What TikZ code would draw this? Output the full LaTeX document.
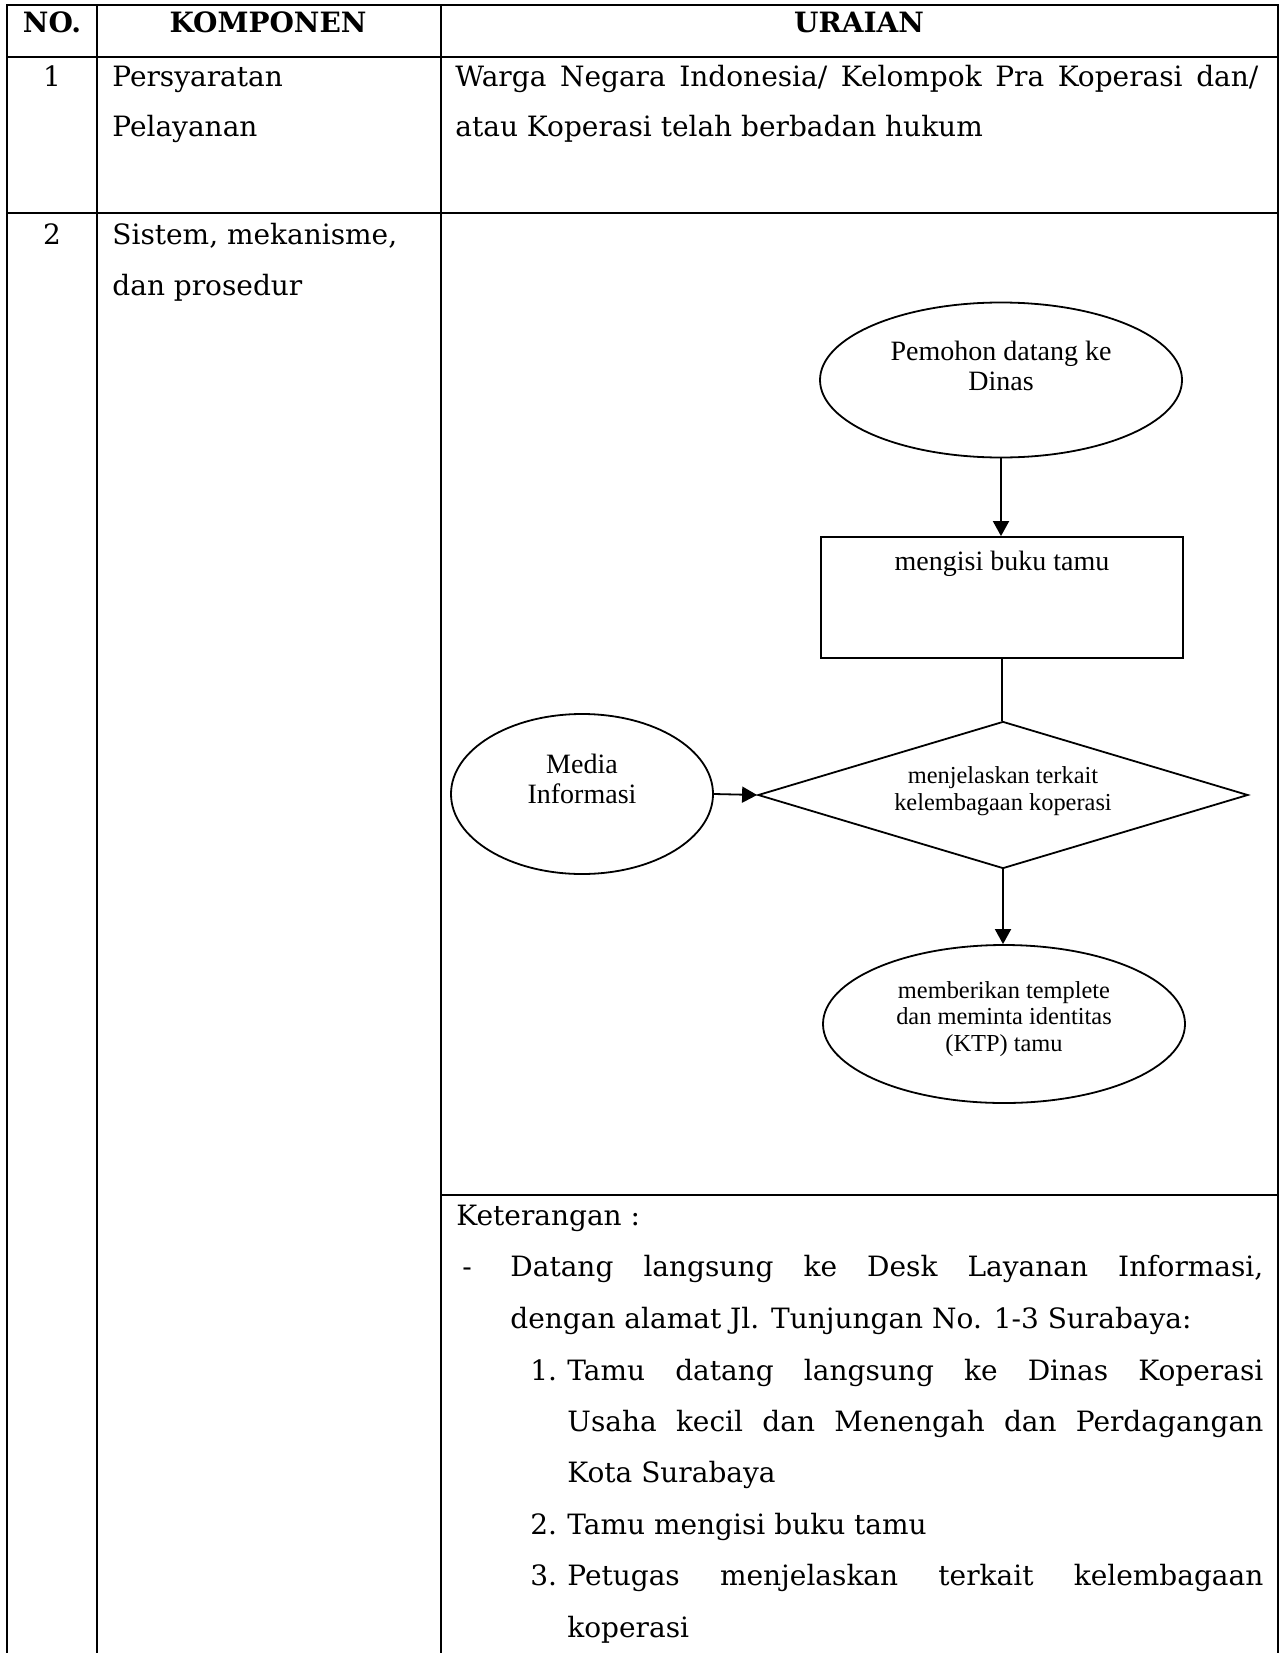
\documentclass[tikz,border=0pt]{standalone}
\usepackage{fontspec}
\setmainfont{DejaVu Serif}
\newfontfamily\flowfont{Liberation Serif}
\usetikzlibrary{arrows.meta,shapes.geometric}
\tikzset{
  tbl/.style={line width=1.3pt, line cap=rect},
  cell/.style={anchor=base west, inner sep=0pt, font=\fontsize{14}{14}\selectfont},
  cellc/.style={anchor=base, inner sep=0pt, font=\fontsize{14}{14}\selectfont\bfseries},
  shp/.style={draw, line width=0.9pt, inner sep=0pt},
  ell/.style={shp, ellipse},
  ftxt/.style={inner sep=0pt, align=center, font=\flowfont\fontsize{14}{15}\selectfont},
  fsmall/.style={inner sep=0pt, align=center, font=\flowfont\fontsize{12.2}{13.2}\selectfont},
  arr/.style={line width=0.9pt, -{Triangle[length=7.5pt,width=8pt]}},
  conn/.style={line width=0.9pt}
}
\begin{document}
\begin{tikzpicture}[x=0.5pt,y=-0.5pt]
\useasboundingbox (0,0) rectangle (1280,1653);
% table grid
\draw[tbl] (7,5) -- (1278,5);
\draw[tbl] (7,57) -- (1278,57);
\draw[tbl] (7,213) -- (1278,213);
\draw[tbl] (441,1195) -- (1278,1195);
\draw[tbl] (7,5) -- (7,1660);
\draw[tbl] (97,5) -- (97,1660);
\draw[tbl] (441,5) -- (441,1660);
\draw[tbl] (1278,5) -- (1278,1660);
% header
\node[cellc] (hno) at (52,33) {NO.};
\node[cellc] (hkomp) at (268,33) {KOMPONEN};
\node[cellc] (hur) at (859,33) {URAIAN};
% row 1
\node[cell, anchor=base] (n1) at (52,87) {1};
\node[cell] (k1a) at (112,87) {Persyaratan};
\node[cell] (k1b) at (112,137) {Pelayanan};
\node[cell] (u1a) at (455,87) {\makebox[401.5pt][s]{Warga Negara Indonesia/ Kelompok Pra Koperasi dan/}};
\node[cell] (u1b) at (455,137) {atau Koperasi telah berbadan hukum};
% row 2
\node[cell, anchor=base] (n2) at (52,245) {2};
\node[cell] (k2a) at (112,245) {Sistem, mekanisme,};
\node[cell] (k2b) at (112,295) {dan prosedur};
% flowchart
\node[ell, minimum width=181pt, minimum height=77.5pt] (e1) at (1001,380) {};
\node[ftxt] (t1) at (1001,366) {Pemohon datang ke\\Dinas};
\node[shp, rectangle, minimum width=181pt, minimum height=60.5pt] (r1) at (1002,597.5) {};
\node[ftxt] (t2) at (1002,564) {mengisi buku tamu};
\node[shp, diamond, minimum width=245pt, minimum height=73.5pt] (d1) at (1003,795) {};
\node[fsmall] (t3) at (1003,791) {menjelaskan terkait\\kelembagaan koperasi};
\node[ell, minimum width=131pt, minimum height=80pt] (m1) at (582,794) {};
\node[ftxt] (t4) at (582,779) {Media\\Informasi};
\node[ell, minimum width=181pt, minimum height=79pt] (e3) at (1004,1024) {};
\node[fsmall] (t5) at (1004,1019) {memberikan templete\\dan meminta identitas\\(KTP) tamu};
\draw[arr] (e1.south) -- (e1.south |- r1.north);
\draw[conn] (r1.south) -- (r1.south |- d1.north);
\draw[arr] (m1.east) -- (d1.west);
\draw[arr] (d1.south) -- (d1.south |- e3.north);
% keterangan
\node[cell] (ket) at (456,1225) {Keterangan :};
\node[cell] (dash) at (462,1276) {-};
\node[cell] (l1) at (510,1276) {\makebox[376.5pt][s]{Datang langsung ke Desk Layanan Informasi,}};
\node[cell] (l2) at (510,1328) {dengan alamat Jl. Tunjungan No. 1-3 Surabaya:};
\node[cell] (i1) at (530,1380) {1.};
\node[cell] (l3) at (567,1380) {\makebox[348pt][s]{Tamu datang langsung ke Dinas Koperasi}};
\node[cell] (l4) at (567,1431) {\makebox[348pt][s]{Usaha kecil dan Menengah dan Perdagangan}};
\node[cell] (l5) at (567,1482) {Kota Surabaya};
\node[cell] (i2) at (530,1534) {2.};
\node[cell] (l6) at (567,1534) {Tamu mengisi buku tamu};
\node[cell] (i3) at (530,1585) {3.};
\node[cell] (l7) at (567,1585) {\makebox[348pt][s]{Petugas menjelaskan terkait kelembagaan}};
\node[cell] (l8) at (567,1637) {koperasi};
\end{tikzpicture}
\end{document}
